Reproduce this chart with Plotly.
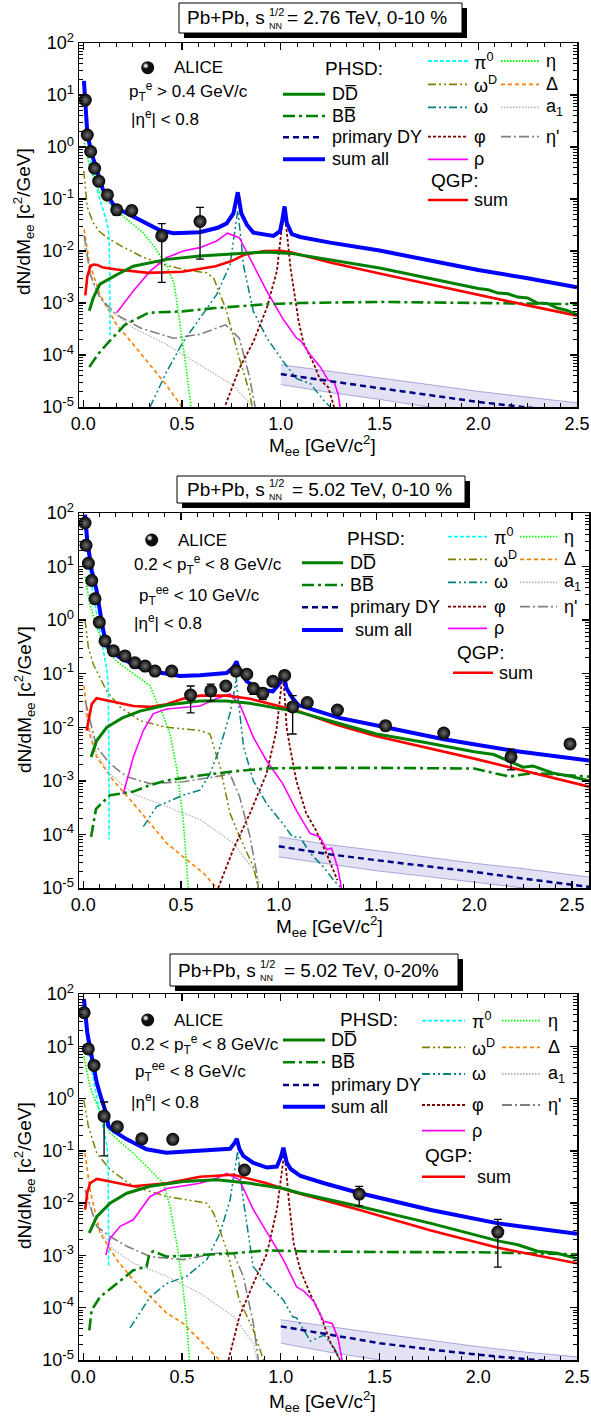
import plotly.graph_objects as go

# ---------------- DATA ----------------
# Panel 1: Pb+Pb 2.76 TeV 0-10 %
P1_ALICE_X = [0.01, 0.02, 0.037, 0.057, 0.078, 0.122, 0.169, 0.245, 0.397, 0.591]
P1_ALICE_Y = [8.0, 1.7, 0.82, 0.39, 0.22, 0.12, 0.062, 0.060, 0.0195, 0.037]
P1_ALICE_EP = [0.5, 0.1, 0.05, 0.02, 0.01, 0.01, 0.013, 0.012, 0.014, 0.032]
P1_ALICE_EM = [0.5, 0.1, 0.05, 0.02, 0.01, 0.01, 0.013, 0.012, 0.017, 0.030]
P1_SUM_X = [0.003, 0.01, 0.02, 0.04, 0.068, 0.10, 0.118, 0.135, 0.15, 0.186, 0.287, 0.388, 0.456, 0.59, 0.68, 0.726, 0.76, 0.775, 0.782, 0.79, 0.80, 0.828, 0.861, 0.963, 0.996, 1.008, 1.019, 1.03, 1.056, 1.098, 1.25, 1.5, 1.75, 2.0, 2.25, 2.5]
P1_SUM_Y = [18.7, 6.5, 1.85, 0.8, 0.36, 0.149, 0.126, 0.099, 0.08, 0.062, 0.040, 0.025, 0.022, 0.023, 0.028, 0.034, 0.053, 0.09, 0.135, 0.09, 0.053, 0.032, 0.0226, 0.0195, 0.024, 0.04, 0.072, 0.035, 0.021, 0.0186, 0.0145, 0.0102, 0.0066, 0.0043, 0.003, 0.0020]
P1_DD_X = [0.03, 0.05, 0.084, 0.169, 0.253, 0.422, 0.591, 0.76, 0.929, 1.05, 1.25, 1.5, 1.75, 2.0, 2.05, 2.1, 2.15, 2.2, 2.25, 2.3, 2.35, 2.4, 2.45, 2.5]
P1_DD_Y = [0.00071, 0.00125, 0.0023, 0.0035, 0.0051, 0.0069, 0.0080, 0.0089, 0.0096, 0.0090, 0.0068, 0.0047, 0.0030, 0.0019, 0.0018, 0.00155, 0.0015, 0.0013, 0.00125, 0.0010, 0.00098, 0.0008, 0.00072, 0.0006]
P1_BB_X = [0.03, 0.08, 0.13, 0.21, 0.33, 0.5, 0.67, 0.93, 1.1, 1.5, 2.0, 2.5]
P1_BB_Y = [5.9e-5, 1.1e-4, 1.8e-4, 3.8e-4, 6.5e-4, 6.9e-4, 8e-4, 9.5e-4, 1.0e-3, 1.05e-3, 1.0e-3, 9.5e-4]
P1_QGP_X = [0.01, 0.02, 0.035, 0.05, 0.07, 0.1, 0.169, 0.33, 0.5, 0.67, 0.75, 0.82, 0.92, 1.0, 1.05, 1.25, 1.5, 1.75, 2.0, 2.25, 2.5]
P1_QGP_Y = [0.0014, 0.0032, 0.0050, 0.0055, 0.0054, 0.0048, 0.0044, 0.0038, 0.0040, 0.0051, 0.0064, 0.0086, 0.0100, 0.0101, 0.0095, 0.0060, 0.0037, 0.0023, 0.0014, 0.0009, 0.00057]
P1_RHO_X = [0.169, 0.253, 0.338, 0.42, 0.506, 0.59, 0.675, 0.73, 0.79, 0.861, 0.929, 1.013, 1.08, 1.1, 1.15, 1.2, 1.24, 1.27, 1.29, 1.3]
P1_RHO_Y = [6.5e-4, 1.7e-3, 4.1e-3, 7.4e-3, 0.010, 0.0116, 0.0156, 0.022, 0.018, 0.0055, 0.0017, 4.8e-4, 2.1e-4, 1.9e-4, 1.0e-4, 5.9e-5, 3.3e-5, 3e-5, 1.8e-5, 1e-5]
P1_OMEGA_X = [0.338, 0.422, 0.506, 0.59, 0.675, 0.743, 0.765, 0.782, 0.80, 0.81, 0.861, 0.93, 1.013, 1.08, 1.15, 1.22, 1.25]
P1_OMEGA_Y = [1e-5, 4.8e-5, 1.8e-4, 5.1e-4, 1.45e-3, 5.5e-3, 0.02, 0.06, 0.015, 5.5e-3, 6.9e-4, 2.1e-4, 7.4e-5, 3.5e-5, 2.8e-5, 1.3e-5, 1e-5]
P1_PHI_X = [0.72, 0.79, 0.861, 0.929, 0.98, 1.005, 1.019, 1.03, 1.05, 1.07, 1.09, 1.115, 1.166, 1.2, 1.24, 1.27]
P1_PHI_Y = [1.1e-5, 5.5e-5, 1.8e-4, 8e-4, 4.1e-3, 0.028, 0.05, 0.024, 0.0045, 0.0013, 4.5e-4, 1.7e-4, 6.9e-5, 3.3e-5, 2.4e-5, 1e-5]
P1_OMEGAD_X = [0.002, 0.02, 0.05, 0.08, 0.13, 0.2, 0.29, 0.4, 0.5, 0.625, 0.66, 0.72, 0.79, 0.84, 0.855]
P1_OMEGAD_Y = [0.35, 0.07, 0.035, 0.024, 0.017, 0.012, 0.0080, 0.0055, 0.0045, 0.0038, 0.003, 8e-4, 8.7e-5, 2e-5, 1e-5]
P1_ETA_X = [0.005, 0.03, 0.06, 0.1, 0.135, 0.2, 0.3, 0.36, 0.42, 0.46, 0.49, 0.52, 0.545]
P1_ETA_Y = [1.2, 0.45, 0.2, 0.1, 0.08, 0.047, 0.023, 0.012, 0.0055, 0.0023, 3.8e-4, 6e-5, 1e-5]
P1_PI0_X = [0.003, 0.02, 0.04, 0.06, 0.08, 0.1, 0.12, 0.13, 0.134, 0.135]
P1_PI0_Y = [17, 1.6, 0.45, 0.2, 0.11, 0.06, 0.035, 0.02, 0.004, 2.4e-4]
P1_DELTA_X = [0.004, 0.03, 0.084, 0.169, 0.253, 0.338, 0.422, 0.5]
P1_DELTA_Y = [0.026, 0.006, 1.45e-3, 3.8e-4, 1.6e-4, 6.4e-5, 2.6e-5, 1e-5]
P1_A1_X = [0.004, 0.05, 0.12, 0.253, 0.42, 0.59, 0.76, 0.86]
P1_A1_Y = [0.013, 2.3e-3, 8e-4, 3.3e-4, 1.6e-4, 6.4e-5, 2.6e-5, 1e-5]
P1_ETAP_X = [0.004, 0.035, 0.084, 0.17, 0.29, 0.456, 0.59, 0.72, 0.79, 0.84, 0.87]
P1_ETAP_Y = [0.02, 3.5e-3, 1.25e-3, 5.9e-4, 3.3e-4, 2.1e-4, 2.5e-4, 3.8e-4, 2.1e-4, 4e-5, 1e-5]
P1_DY_X = [1.0, 1.25, 1.5, 1.75, 2.0, 2.25, 2.5]
P1_DY_Y = [4.3e-5, 3.1e-5, 2.3e-5, 1.7e-5, 1.25e-5, 9.8e-6, 7.8e-6]
P1_DY_HI = [6.5e-5, 4.8e-5, 3.6e-5, 2.7e-5, 2.0e-5, 1.55e-5, 1.2e-5]
P1_DY_LO = [2.7e-5, 1.9e-5, 1.4e-5, 1.0e-5, 7.5e-6, 6e-6, 4.8e-6]

# Panel 2: Pb+Pb 5.02 TeV 0-10 %
P2_ALICE_X = [0.009, 0.014, 0.026, 0.043, 0.06, 0.082, 0.111, 0.154, 0.213, 0.264, 0.316, 0.367, 0.452, 0.549, 0.652, 0.729, 0.781, 0.836, 0.87, 0.918, 0.97, 1.03, 1.071, 1.146, 1.30, 1.546, 1.844, 2.188, 2.49]
P2_ALICE_Y = [65, 25, 11.5, 5.5, 2.5, 0.91, 0.41, 0.267, 0.215, 0.16, 0.139, 0.112, 0.112, 0.040, 0.048, 0.059, 0.112, 0.098, 0.053, 0.043, 0.072, 0.093, 0.024, 0.029, 0.021, 0.0107, 0.0078, 0.0028, 0.0049]
P2_ALICE_EP = [3, 1.5, 0.6, 0.3, 0.15, 0.05, 0.03, 0.015, 0.012, 0.01, 0.01, 0.008, 0.008, 0.019, 0.016, 0.008, 0.01, 0.01, 0.012, 0.01, 0.01, 0.01, 0.015, 0.005, 0.003, 0.002, 0.0015, 0.0011, 0.0005]
P2_ALICE_EM = [3, 1.5, 0.6, 0.3, 0.15, 0.05, 0.03, 0.015, 0.012, 0.01, 0.01, 0.008, 0.008, 0.0215, 0.017, 0.008, 0.01, 0.01, 0.012, 0.01, 0.01, 0.01, 0.0165, 0.005, 0.003, 0.002, 0.0015, 0.0012, 0.0005]
P2_SUM_X = [0.009, 0.02, 0.043, 0.068, 0.085, 0.102, 0.119, 0.13, 0.136, 0.187, 0.29, 0.39, 0.495, 0.597, 0.733, 0.767, 0.784, 0.80, 0.836, 0.904, 0.97, 1.0, 1.02, 1.04, 1.07, 1.1, 1.2, 1.31, 1.546, 1.844, 2.188, 2.4, 2.587]
P2_SUM_Y = [93, 31, 8.5, 3.6, 1.5, 0.64, 0.356, 0.30, 0.27, 0.2, 0.13, 0.105, 0.091, 0.094, 0.103, 0.13, 0.17, 0.11, 0.072, 0.05, 0.047, 0.063, 0.115, 0.053, 0.035, 0.026, 0.02, 0.015, 0.01, 0.006, 0.0037, 0.0029, 0.0024]
P2_DD_X = [0.04, 0.068, 0.12, 0.20, 0.29, 0.426, 0.597, 0.733, 0.853, 1.02, 1.11, 1.30, 1.5, 1.75, 2.0, 2.1, 2.2, 2.25, 2.3, 2.4, 2.5, 2.587]
P2_DD_Y = [0.0028, 0.0056, 0.010, 0.015, 0.020, 0.026, 0.031, 0.031, 0.028, 0.022, 0.019, 0.012, 0.0075, 0.0052, 0.0035, 0.0031, 0.0022, 0.0018, 0.0019, 0.0014, 0.0012, 0.001]
P2_BB_X = [0.04, 0.065, 0.136, 0.256, 0.34, 0.426, 0.597, 0.767, 0.937, 1.11, 1.5, 2.0, 2.18, 2.3, 2.587]
P2_BB_Y = [9e-5, 3.0e-4, 5.4e-4, 6.3e-4, 8.3e-4, 1.02e-3, 1.26e-3, 1.5e-3, 1.7e-3, 1.75e-3, 1.75e-3, 1.7e-3, 1.2e-3, 1.4e-3, 1.2e-3]
P2_QGP_X = [0.017, 0.043, 0.068, 0.136, 0.256, 0.34, 0.426, 0.51, 0.597, 0.733, 0.853, 1.0, 1.1, 1.3, 1.5, 2.0, 2.5, 2.587]
P2_QGP_Y = [0.0087, 0.027, 0.035, 0.031, 0.025, 0.024, 0.027, 0.034, 0.039, 0.039, 0.034, 0.025, 0.02, 0.011, 0.0068, 0.0026, 0.00095, 0.00078]
P2_RHO_X = [0.204, 0.221, 0.256, 0.307, 0.358, 0.426, 0.597, 0.68, 0.75, 0.8, 0.87, 0.937, 1.02, 1.09, 1.16, 1.21, 1.245, 1.27, 1.30, 1.316, 1.32]
P2_RHO_Y = [5.7e-4, 1.0e-3, 2.8e-3, 8.7e-3, 0.018, 0.022, 0.025, 0.034, 0.042, 0.027, 0.0065, 0.0024, 8.9e-4, 2.8e-4, 1.05e-4, 9e-5, 5.2e-5, 5.5e-5, 2.5e-5, 1.25e-5, 1e-5]
P2_OMEGA_X = [0.307, 0.375, 0.51, 0.597, 0.648, 0.70, 0.75, 0.776, 0.782, 0.79, 0.82, 0.87, 0.937, 1.02, 1.07, 1.108, 1.16, 1.228, 1.28, 1.32]
P2_OMEGA_Y = [1.4e-4, 3.3e-4, 5.4e-4, 6.7e-4, 1.35e-3, 4.3e-3, 0.018, 0.055, 0.09, 0.04, 4.3e-3, 1e-3, 3.8e-4, 1.6e-4, 9e-5, 9e-5, 4.5e-5, 2.5e-5, 1.4e-5, 1e-5]
P2_PHI_X = [0.69, 0.767, 0.853, 0.937, 0.988, 1.01, 1.02, 1.03, 1.04, 1.057, 1.09, 1.14, 1.19, 1.25, 1.3]
P2_PHI_Y = [1e-5, 5.2e-5, 2.5e-4, 1.35e-3, 8.7e-3, 0.05, 0.1, 0.04, 0.01, 4.3e-3, 1e-3, 2.5e-4, 1.2e-4, 3.9e-5, 1.4e-5]
P2_OMEGAD_X = [0.009, 0.026, 0.051, 0.085, 0.119, 0.187, 0.29, 0.426, 0.597, 0.648, 0.70, 0.75, 0.8, 0.87, 0.896]
P2_OMEGAD_Y = [1.0, 0.31, 0.15, 0.083, 0.048, 0.024, 0.0133, 0.01, 0.0087, 0.0075, 1.8e-3, 2.5e-4, 9e-5, 2.5e-5, 1e-5]
P2_ETA_X = [0.009, 0.034, 0.068, 0.119, 0.17, 0.256, 0.34, 0.375, 0.405, 0.443, 0.477, 0.511, 0.528, 0.537]
P2_ETA_Y = [6.5, 2.0, 0.74, 0.28, 0.17, 0.1, 0.06, 0.03, 0.018, 0.0076, 1.8e-3, 1.9e-4, 3.4e-5, 1e-5]
P2_PI0_X = [0.004, 0.02, 0.04, 0.06, 0.08, 0.1, 0.12, 0.128, 0.131, 0.132]
P2_PI0_Y = [70, 20, 5, 2.0, 0.7, 0.3, 0.12, 0.06, 0.003, 8e-5]
P2_DELTA_X = [0.003, 0.03, 0.068, 0.153, 0.256, 0.34, 0.426, 0.528, 0.614, 0.682]
P2_DELTA_Y = [0.06, 0.008, 2.8e-3, 1.02e-3, 3.8e-4, 1.6e-4, 6.9e-5, 3.4e-5, 1.9e-5, 1e-5]
P2_A1_X = [0.01, 0.068, 0.136, 0.256, 0.426, 0.597, 0.767, 0.87, 0.904]
P2_A1_Y = [0.018, 3.2e-3, 1.35e-3, 5.7e-4, 3.3e-4, 1.9e-4, 6.9e-5, 2.2e-5, 1.2e-5]
P2_ETAP_X = [0.01, 0.068, 0.136, 0.22, 0.34, 0.51, 0.68, 0.75, 0.8, 0.853, 0.887, 0.895]
P2_ETAP_Y = [0.031, 4.3e-3, 2.1e-3, 1.2e-3, 8.9e-4, 9.6e-4, 1.2e-3, 1.35e-3, 5e-4, 9e-5, 1.9e-5, 1e-5]
P2_DY_X = [1.0, 1.25, 1.5, 1.75, 2.0, 2.25, 2.5, 2.587]
P2_DY_Y = [6e-5, 4.3e-5, 3.3e-5, 2.6e-5, 2.0e-5, 1.5e-5, 1.15e-5, 1.05e-5]
P2_DY_HI = [9e-5, 6.5e-5, 5e-5, 3.8e-5, 2.9e-5, 2.3e-5, 1.75e-5, 1.6e-5]
P2_DY_LO = [3.8e-5, 2.8e-5, 2.1e-5, 1.65e-5, 1.3e-5, 1.0e-5, 7.8e-6, 7e-6]

# Panel 3: Pb+Pb 5.02 TeV 0-20 %
P3_ALICE_X = [0.004, 0.025, 0.054, 0.105, 0.172, 0.296, 0.453, 0.816, 1.397, 2.099]
P3_ALICE_Y = [44, 8.9, 4.3, 0.46, 0.29, 0.17, 0.166, 0.043, 0.0149, 0.0028]
P3_ALICE_EP = [4, 1, 0.5, 0.4, 0.03, 0.02, 0.02, 0.006, 0.006, 0.0021]
P3_ALICE_EM = [4, 1, 0.5, 0.38, 0.03, 0.02, 0.03, 0.006, 0.006, 0.0022]
P3_SUM_X = [0.003, 0.02, 0.042, 0.068, 0.093, 0.115, 0.127, 0.153, 0.22, 0.32, 0.42, 0.558, 0.676, 0.743, 0.765, 0.777, 0.79, 0.81, 0.861, 0.93, 0.98, 1.0, 1.013, 1.03, 1.05, 1.1, 1.22, 1.397, 1.76, 2.1, 2.5]
P3_SUM_Y = [80, 18, 6.5, 2.0, 0.95, 0.53, 0.3, 0.24, 0.166, 0.107, 0.092, 0.1, 0.107, 0.11, 0.14, 0.17, 0.11, 0.08, 0.059, 0.048, 0.05, 0.075, 0.115, 0.06, 0.045, 0.033, 0.024, 0.0156, 0.0074, 0.0041, 0.0026]
P3_DD_X = [0.03, 0.068, 0.135, 0.22, 0.338, 0.506, 0.675, 0.844, 1.013, 1.098, 1.4, 1.76, 2.1, 2.2, 2.3, 2.4, 2.5]
P3_DD_Y = [0.0027, 0.0055, 0.010, 0.0155, 0.021, 0.026, 0.028, 0.024, 0.019, 0.0155, 0.0086, 0.0041, 0.0019, 0.0016, 0.0012, 0.0011, 0.00087]
P3_BB_X = [0.03, 0.042, 0.084, 0.169, 0.253, 0.32, 0.335, 0.355, 0.422, 0.59, 0.76, 0.93, 1.1, 1.5, 2.0, 2.5]
P3_BB_Y = [3.7e-5, 9e-5, 1.6e-4, 2.9e-4, 5.2e-4, 6.1e-4, 1.1e-3, 1.2e-3, 9.5e-4, 1.02e-3, 1.1e-3, 1.25e-3, 1.2e-3, 1.16e-3, 1.15e-3, 1.05e-3]
P3_QGP_X = [0.009, 0.02, 0.034, 0.068, 0.135, 0.253, 0.422, 0.591, 0.76, 0.929, 1.047, 1.4, 1.76, 2.1, 2.5]
P3_QGP_Y = [0.0075, 0.016, 0.024, 0.029, 0.026, 0.021, 0.024, 0.032, 0.035, 0.024, 0.017, 0.0074, 0.003, 0.0014, 0.00071]
P3_RHO_X = [0.114, 0.135, 0.186, 0.253, 0.338, 0.422, 0.591, 0.675, 0.726, 0.79, 0.861, 0.93, 1.013, 1.08, 1.115, 1.166, 1.217, 1.26, 1.29, 1.31]
P3_RHO_Y = [1.02e-3, 2.1e-3, 3.6e-3, 4.8e-3, 0.0134, 0.019, 0.024, 0.030, 0.037, 0.028, 0.0075, 0.0027, 8.3e-4, 2.5e-4, 2.1e-4, 1.35e-4, 5.5e-5, 5e-5, 2.6e-5, 1e-5]
P3_OMEGA_X = [0.236, 0.338, 0.422, 0.523, 0.625, 0.693, 0.743, 0.777, 0.782, 0.79, 0.81, 0.86, 0.93, 1.013, 1.06, 1.08, 1.15, 1.22, 1.27, 1.3]
P3_OMEGA_Y = [4.1e-5, 1.6e-4, 2.9e-4, 4e-4, 8.3e-4, 2.7e-3, 0.0115, 0.08, 0.1, 0.05, 0.0115, 6.1e-4, 2.9e-4, 1.4e-4, 6.7e-5, 6.4e-5, 2.3e-5, 3e-5, 1.7e-5, 1e-5]
P3_PHI_X = [0.735, 0.79, 0.861, 0.93, 0.98, 1.01, 1.019, 1.04, 1.065, 1.1, 1.15, 1.2, 1.25, 1.3]
P3_PHI_Y = [1e-5, 6.7e-5, 2.9e-4, 1.1e-3, 7.5e-3, 0.068, 0.1, 0.012, 1.7e-3, 5.1e-4, 1.8e-4, 7.4e-5, 2.2e-5, 1e-5]
P3_OMEGAD_X = [0.002, 0.025, 0.068, 0.135, 0.253, 0.422, 0.625, 0.66, 0.726, 0.79, 0.861, 0.912]
P3_OMEGAD_Y = [0.95, 0.3, 0.09, 0.044, 0.021, 0.0134, 0.010, 0.0064, 1.3e-3, 1.4e-4, 3.8e-5, 1e-5]
P3_ETA_X = [0.002, 0.034, 0.084, 0.135, 0.253, 0.355, 0.405, 0.439, 0.473, 0.506, 0.523, 0.537]
P3_ETA_Y = [6.5, 1.7, 0.54, 0.22, 0.09, 0.038, 0.024, 0.0086, 1.7e-3, 2.2e-4, 5e-5, 1e-5]
P3_PI0_X = [0.003, 0.02, 0.04, 0.06, 0.08, 0.1, 0.12, 0.126, 0.128]
P3_PI0_Y = [60, 12, 4, 1.5, 0.6, 0.3, 0.12, 0.05, 6e-4]
P3_DELTA_X = [0.0086, 0.034, 0.084, 0.169, 0.253, 0.338, 0.422, 0.506, 0.59, 0.69]
P3_DELTA_Y = [0.09, 0.018, 2.7e-3, 8.3e-4, 3.4e-4, 1.6e-4, 7.9e-5, 5e-5, 2.4e-5, 1e-5]
P3_A1_X = [0.009, 0.068, 0.152, 0.253, 0.422, 0.59, 0.76, 0.86, 0.88]
P3_A1_Y = [0.0155, 3.6e-3, 1.3e-3, 7.1e-4, 4e-4, 1.9e-4, 6.8e-5, 2.1e-5, 1e-5]
P3_ETAP_X = [0.009, 0.068, 0.135, 0.22, 0.338, 0.506, 0.675, 0.76, 0.81, 0.861, 0.886]
P3_ETAP_Y = [0.018, 3.6e-3, 2.3e-3, 1.5e-3, 9.5e-4, 8.3e-4, 1.1e-3, 1.1e-3, 4e-4, 5e-5, 1e-5]
P3_DY_X = [1.0, 1.25, 1.5, 1.75, 2.0, 2.25, 2.5]
P3_DY_Y = [4.4e-5, 3.0e-5, 2.1e-5, 1.6e-5, 1.26e-5, 1.03e-5, 8.7e-6]
P3_DY_HI = [5.9e-5, 4.3e-5, 3.2e-5, 2.4e-5, 1.8e-5, 1.4e-5, 1.15e-5]
P3_DY_LO = [2.1e-5, 1.4e-5, 1.0e-5, 7.5e-6, 6e-6, 5e-6, 4e-6]

TITLES = ["= 2.76 TeV, 0-10 %", "= 5.02 TeV, 0-10 %", "= 5.02 TeV, 0-20%"]
CUTS = [
    ["p<sub>T</sub><sup>e</sup> > 0.4 GeV/c", "|η<sup>e</sup>| < 0.8"],
    ["0.2 < p<sub>T</sub><sup>e</sup> < 8 GeV/c", "p<sub>T</sub><sup>ee</sup> < 10 GeV/c", "|η<sup>e</sup>| < 0.8"],
    ["0.2 < p<sub>T</sub><sup>e</sup> < 8 GeV/c", "p<sub>T</sub><sup>ee</sup> < 8 GeV/c", "|η<sup>e</sup>| < 0.8"],
]
Y_EXP = list(range(-5, 3))

# ---------------- STYLE / LAYOUT ----------------
W, H = 591, 1418
FONT = "Liberation Sans"


def X(px):
    return px / W


def Y(py):
    return 1 - py / H


STY = {
    "pi0": dict(color="#00ffff", width=1.6, dash="4px,2px"),
    "eta": dict(color="#00ff00", width=1.6, dash="1.5px,1.5px"),
    "omegad": dict(color="#808000", width=1.5, dash="8px,3px,2px,3px,2px,3px"),
    "delta": dict(color="#ff8000", width=1.6, dash="4px,3px"),
    "omega": dict(color="#008080", width=1.5, dash="8px,3px,2px,3px,2px,3px"),
    "a1": dict(color="#b4b4b4", width=1.3, dash="1.5px,1.5px"),
    "phi": dict(color="#800000", width=1.8, dash="3px,2px"),
    "etap": dict(color="#808080", width=1.6, dash="10px,3px,2px,3px"),
    "rho": dict(color="#ff00ff", width=1.6, dash="solid"),
    "dd": dict(color="#008000", width=3, dash="solid"),
    "bb": dict(color="#008000", width=2.6, dash="12px,4px,3px,4px"),
    "dy": dict(color="#000080", width=2.5, dash="6px,4px"),
    "qgp": dict(color="#ff0000", width=2.6, dash="solid"),
    "sum": dict(color="#0000ff", width=4, dash="solid"),
}

PANELS = [
    dict(ax="", px=(79, 577), py=(43, 407), xr=[-0.022, 2.5],
         data=dict(pi0=(P1_PI0_X, P1_PI0_Y), eta=(P1_ETA_X, P1_ETA_Y), omegad=(P1_OMEGAD_X, P1_OMEGAD_Y),
                   delta=(P1_DELTA_X, P1_DELTA_Y), a1=(P1_A1_X, P1_A1_Y), etap=(P1_ETAP_X, P1_ETAP_Y),
                   omega=(P1_OMEGA_X, P1_OMEGA_Y), phi=(P1_PHI_X, P1_PHI_Y), rho=(P1_RHO_X, P1_RHO_Y),
                   bb=(P1_BB_X, P1_BB_Y), dd=(P1_DD_X, P1_DD_Y), qgp=(P1_QGP_X, P1_QGP_Y),
                   dy=(P1_DY_X, P1_DY_Y), sum=(P1_SUM_X, P1_SUM_Y)),
         band=(P1_DY_X, P1_DY_LO, P1_DY_HI),
         pts=(P1_ALICE_X, P1_ALICE_Y, P1_ALICE_EP, P1_ALICE_EM)),
    dict(ax="2", px=(79, 589), py=(513, 888), xr=[-0.022, 2.587],
         data=dict(pi0=(P2_PI0_X, P2_PI0_Y), eta=(P2_ETA_X, P2_ETA_Y), omegad=(P2_OMEGAD_X, P2_OMEGAD_Y),
                   delta=(P2_DELTA_X, P2_DELTA_Y), a1=(P2_A1_X, P2_A1_Y), etap=(P2_ETAP_X, P2_ETAP_Y),
                   omega=(P2_OMEGA_X, P2_OMEGA_Y), phi=(P2_PHI_X, P2_PHI_Y), rho=(P2_RHO_X, P2_RHO_Y),
                   bb=(P2_BB_X, P2_BB_Y), dd=(P2_DD_X, P2_DD_Y), qgp=(P2_QGP_X, P2_QGP_Y),
                   dy=(P2_DY_X, P2_DY_Y), sum=(P2_SUM_X, P2_SUM_Y)),
         band=(P2_DY_X, P2_DY_LO, P2_DY_HI),
         pts=(P2_ALICE_X, P2_ALICE_Y, P2_ALICE_EP, P2_ALICE_EM)),
    dict(ax="3", px=(79, 577), py=(994, 1360), xr=[-0.022, 2.5],
         data=dict(pi0=(P3_PI0_X, P3_PI0_Y), eta=(P3_ETA_X, P3_ETA_Y), omegad=(P3_OMEGAD_X, P3_OMEGAD_Y),
                   delta=(P3_DELTA_X, P3_DELTA_Y), a1=(P3_A1_X, P3_A1_Y), etap=(P3_ETAP_X, P3_ETAP_Y),
                   omega=(P3_OMEGA_X, P3_OMEGA_Y), phi=(P3_PHI_X, P3_PHI_Y), rho=(P3_RHO_X, P3_RHO_Y),
                   bb=(P3_BB_X, P3_BB_Y), dd=(P3_DD_X, P3_DD_Y), qgp=(P3_QGP_X, P3_QGP_Y),
                   dy=(P3_DY_X, P3_DY_Y), sum=(P3_SUM_X, P3_SUM_Y)),
         band=(P3_DY_X, P3_DY_LO, P3_DY_HI),
         pts=(P3_ALICE_X, P3_ALICE_Y, P3_ALICE_EP, P3_ALICE_EM)),
]

fig = go.Figure()
ORDER = ["a1", "delta", "etap", "omegad", "eta", "pi0", "omega", "phi", "rho", "bb", "qgp", "dd", "dy", "sum"]

layout = dict(template="none", width=W, height=H, margin=dict(l=0, r=0, t=0, b=0, pad=0, autoexpand=False),
              paper_bgcolor="white", plot_bgcolor="white", showlegend=False,
              font=dict(family=FONT, color="black", size=16))

minor_vals = [m * 10.0 ** k for k in range(-5, 2) for m in range(2, 10)]
ytext = ["10<sup><span style='font-size:13px'>%d</span></sup>" % k for k in Y_EXP]

for P in PANELS:
    a = P["ax"]
    xa, ya = "x" + a, "y" + a
    bx, blo, bhi = P["band"]
    fig.add_trace(go.Scatter(x=bx, y=blo, mode="lines", line=dict(color="rgba(110,110,200,0.7)", width=0.8),
                             xaxis=xa, yaxis=ya, hoverinfo="skip"))
    fig.add_trace(go.Scatter(x=bx, y=bhi, mode="lines", line=dict(color="rgba(110,110,200,0.7)", width=0.8),
                             fill="tonexty", fillcolor="rgba(150,150,215,0.28)", xaxis=xa, yaxis=ya, hoverinfo="skip"))
    for key in ORDER:
        xs, ys = P["data"][key]
        fig.add_trace(go.Scatter(x=xs, y=ys, mode="lines", line=STY[key], xaxis=xa, yaxis=ya,
                                 hoverinfo="skip"))
    px_, py_, ep, em = P["pts"]
    fig.add_trace(go.Scatter(x=px_, y=py_, mode="markers", xaxis=xa, yaxis=ya, hoverinfo="skip",
                             marker=dict(size=13, color="#000000", line=dict(width=0),
                                         gradient=dict(type="radial", color="#6e6e6e")),
                             error_y=dict(type="data", symmetric=False, array=ep, arrayminus=em,
                                          color="black", thickness=1.3, width=4)))
    xdom = [X(P["px"][0]), X(P["px"][1])]
    ydom = [Y(P["py"][1]), Y(P["py"][0])]
    layout["xaxis" + a] = dict(domain=xdom, range=P["xr"], anchor=ya, automargin=False, showline=True,
                               linecolor="black", linewidth=1.5, mirror="allticks", ticks="inside",
                               ticklen=7, tickwidth=1.3, tickcolor="black", tick0=0, dtick=0.5,
                               tickformat=".1f", showgrid=False, zeroline=False,
                               tickfont=dict(family=FONT, size=18, color="black"),
                               minor=dict(ticks="inside", ticklen=4, tickwidth=1, tickcolor="black",
                                          tick0=0, dtick=0.5 / 6, showgrid=False))
    layout["yaxis" + a] = dict(domain=ydom, type="log", range=[-5, 2], anchor=xa, automargin=False,
                               showline=True, linecolor="black", linewidth=1.5, mirror="allticks",
                               ticks="inside", ticklen=7, tickwidth=1.3, tickcolor="black",
                               tickmode="array", tickvals=[10.0 ** k for k in Y_EXP], ticktext=ytext,
                               showgrid=False, zeroline=False,
                               tickfont=dict(family=FONT, size=18, color="black"),
                               minor=dict(ticks="inside", ticklen=4, tickwidth=1, tickcolor="black",
                                          tickmode="array", tickvals=minor_vals, showgrid=False))

shapes = []
ann = []


def text(px, py, s, size=16, anchor="left", **kw):
    ann.append(dict(x=X(px), y=Y(py), xref="paper", yref="paper", text=s, showarrow=False,
                    xanchor=anchor, yanchor="middle", font=dict(family=FONT, size=size, color="black"), **kw))


def seg(x0, x1, py, key, width=None):
    st = dict(STY[key])
    if width:
        st["width"] = width
    shapes.append(dict(type="line", xref="paper", yref="paper", x0=X(x0), x1=X(x1), y0=Y(py), y1=Y(py),
                       line=st))


# title boxes
BOXES = [(179, 462, 3, 33, 267, 285), (177, 465, 476, 503, 267, 290), (170, 458, 954, 986, 258, 282)]
for (x0, x1, y0, y1, sx, ex), ttl in zip(BOXES, TITLES):
    shapes.append(dict(type="rect", xref="paper", yref="paper", x0=X(x0 + 5), x1=X(x1 + 5), y0=Y(y1 + 5),
                       y1=Y(y0 + 5), fillcolor="black", line=dict(width=0), layer="above"))
    shapes.append(dict(type="rect", xref="paper", yref="paper", x0=X(x0), x1=X(x1), y0=Y(y1), y1=Y(y0),
                       fillcolor="white", line=dict(color="black", width=1), layer="above"))
    yc = (y0 + y1) / 2
    text(sx, yc, "Pb+Pb, s", size=19, anchor="right")
    text(sx, yc - 6, "1/2", size=11)
    text(sx, yc + 8, "NN", size=9)
    text(ex, yc, ttl, size=19)

# axis titles
YT = [222, 700, 1176]
XT = [(322, 446), (329, 926), (322, 1401)]
for yc, (xc, xy) in zip(YT, XT):
    text(24, yc, "dN/dM<sub>ee</sub> [c<sup>2</sup>/GeV]", size=19, anchor="center", textangle=-90)
    text(xc, xy, "M<sub>ee</sub> [GeV/c<sup>2</sup>]", size=19, anchor="center")

# ALICE markers and cuts
ALICE_POS = [(147.7, 67.7), (151.7, 540), (147.7, 1020)]
CUT_POS = [[(188, 91.7, "center"), (129, 118.3, "left")],
           [(131.7, 565, "left"), (136.7, 595, "left"), (131.7, 621.7, "left")],
           [(129, 1044.3, "left"), (133, 1071.7, "left"), (129, 1101, "left")]]
for (cx, cy), cps, cuts in zip(ALICE_POS, CUT_POS, CUTS):
    r = 6.5
    shapes.append(dict(type="circle", xref="paper", yref="paper", x0=X(cx - r), x1=X(cx + r), y0=Y(cy + r),
                       y1=Y(cy - r), fillcolor="#101010", line=dict(width=0)))
    shapes.append(dict(type="circle", xref="paper", yref="paper", x0=X(cx - 4.5), x1=X(cx + 0.5),
                       y0=Y(cy + 0.5), y1=Y(cy - 4.5), fillcolor="#8a8a8a", line=dict(width=0)))
    shapes.append(dict(type="circle", xref="paper", yref="paper", x0=X(cx - 3.5), x1=X(cx - 0.5),
                       y0=Y(cy - 0.5), y1=Y(cy - 3.5), fillcolor="#e0e0e0", line=dict(width=0)))
    text(cx + 24, cy, "ALICE", size=17)
    for (tx, ty, anc), s in zip(cps, cuts):
        text(tx, ty, s, size=17, anchor=anc)

# model legends
LEG = [
    dict(phsd=(323, 68.3), left=(283, 325, 330), lrows=[94.3, 116, 137.3, 159.3], sumx=330,
         c1=(428, 468, 472), c2=(501, 539, 544), rows=[61, 84.3, 107.3, 136.7, 159.3], qgp=(429, 180),
         sumrow=(428, 468, 472, 200)),
    dict(phsd=(345, 538.3), left=(302, 343, 348), lrows=[562.7, 585, 607.3, 630], sumx=353,
         c1=(448, 487, 492), c2=(520, 557, 562), rows=[536.7, 559.3, 582.3, 606.7, 628.3], qgp=(455, 652.7),
         sumrow=(453, 493, 497, 672.7)),
    dict(phsd=(338, 1019), left=(283, 325, 329), lrows=[1040, 1062.3, 1085, 1106.7], sumx=329,
         c1=(422, 465, 470), c2=(502, 540, 546), rows=[1020.7, 1047.3, 1074, 1105, 1130.7], qgp=(423, 1155),
         sumrow=(422, 465, 475, 1176.7)),
]
for L in LEG:
    text(L["phsd"][0], L["phsd"][1], "PHSD:", size=19)
    x0, x1, tx = L["left"]
    r = L["lrows"]
    seg(x0, x1, r[0], "dd")
    text(tx, r[0], "DD\u0305", size=18)
    seg(x0, x1, r[1], "bb")
    text(tx, r[1], "BB\u0305", size=18)
    seg(x0, x1 - 5, r[2], "dy")
    text(tx, r[2], "primary DY", size=18)
    seg(x0, x1, r[3], "sum")
    text(L["sumx"], r[3], "sum all", size=18)
    a0, a1_, at = L["c1"]
    b0, b1, bt = L["c2"]
    rw = L["rows"]
    for key, lab, yy in [("pi0", "π<sup>0</sup>", rw[0]), ("omegad", "ω<sup>D</sup>", rw[1]),
                         ("omega", "ω", rw[2]), ("phi", "φ", rw[3]), ("rho", "ρ", rw[4])]:
        seg(a0, a1_, yy, key, width=1.8)
        text(at, yy, lab, size=18)
    for key, lab, yy in [("eta", "η", rw[0]), ("delta", "Δ", rw[1]), ("a1", "a<sub>1</sub>", rw[2]),
                         ("etap", "η'", rw[3])]:
        seg(b0, b1, yy, key, width=1.8)
        text(bt, yy, lab, size=18)
    text(L["qgp"][0], L["qgp"][1], "QGP:", size=19)
    s0, s1, st, sy = L["sumrow"]
    seg(s0, s1, sy, "qgp")
    text(st, sy, "sum", size=18)

layout["shapes"] = shapes
layout["annotations"] = ann
fig.update_layout(**layout)
fig.write_html("out.html", config={"displayModeBar": False, "staticPlot": True},
               post_script="document.body.style.margin='0px';document.body.style.padding='0px';"
                           "document.body.style.overflow='hidden';")
